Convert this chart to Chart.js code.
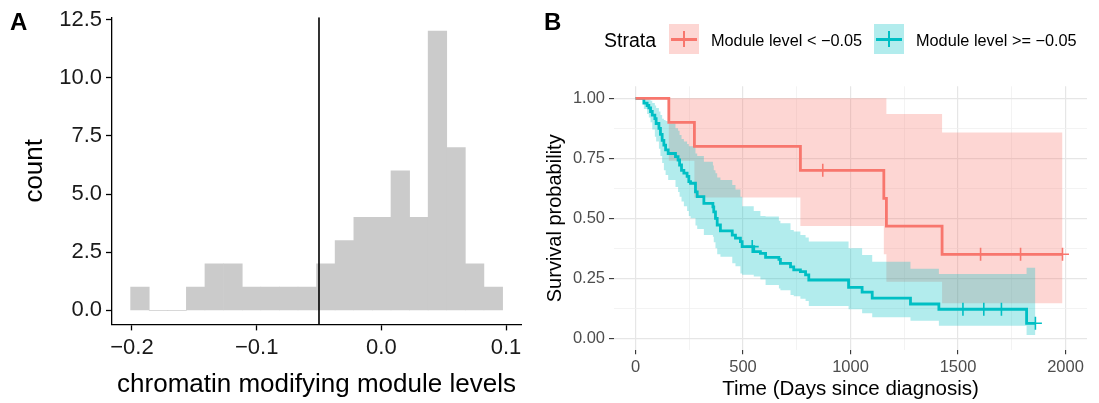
<!DOCTYPE html>
<html>
<head>
<meta charset="utf-8">
<script src="https://cdn.jsdelivr.net/npm/chart.js@4.4.1/dist/chart.umd.min.js"></script>
<style>
  body { margin: 0; background: #fff; }
  #wrap { position: relative; width: 1099px; height: 403px; overflow: hidden; font-family: "Liberation Sans", Arial, Helvetica, sans-serif; }
  canvas { position: absolute; top: 0; }
  .tag { position: absolute; font-weight: bold; font-size: 24px; line-height: 26px; color: #000; }
  .lg { position: absolute; white-space: nowrap; color: #000; }
  .key { position: absolute; width: 30px; height: 30px; top: 24px; }
  .key .h { position: absolute; left: 2px; top: 13.5px; width: 26px; height: 3px; }
  .key .v { position: absolute; left: 14px; top: 7px; width: 2px; height: 16px; }
</style>
</head>
<body>
<div id="wrap">
  <canvas id="histA" width="540" height="403" style="left:0"></canvas>
  <canvas id="survB" width="559" height="403" style="left:540px"></canvas>
  <div class="tag" style="left:10px;top:9px">A</div>
  <div class="tag" style="left:544px;top:9px">B</div>

  <div class="lg" style="left:604px;top:28px;font-size:19.5px;line-height:24px">Strata</div>
  <div class="key" style="left:669px;background:rgba(248,118,109,0.3)">
    <div class="h" style="background:#F8766D"></div><div class="v" style="background:#F8766D"></div>
  </div>
  <div class="lg" style="left:711px;top:30px;font-size:16.3px;line-height:20px">Module level &lt; &minus;0.05</div>
  <div class="key" style="left:874px;background:rgba(0,191,196,0.3)">
    <div class="h" style="background:#00BFC4"></div><div class="v" style="background:#00BFC4"></div>
  </div>
  <div class="lg" style="left:916px;top:30px;font-size:16.3px;line-height:20px">Module level &gt;= &minus;0.05</div>
</div>

<script>
// ---- panel A: histogram of module levels ----
const binCenters = [-0.1936, -0.1787, -0.1638, -0.1489, -0.1340, -0.1190, -0.1041, -0.0892, -0.0743, -0.0594,
                    -0.0445, -0.0296, -0.0146, 0.0003, 0.0152, 0.0301, 0.0450, 0.0599, 0.0748, 0.0898];
const binCounts = [1, 0, 0, 1, 2, 2, 1, 1, 1, 1, 2, 3, 4, 4, 6, 4, 12, 7, 2, 1];
const cutoff = -0.05;
const histXTicks = [-0.2, -0.1, 0, 0.1];
const histXLabels = ['\u22120.2', '\u22120.1', '0.0', '0.1'];
const histYTicks = [0, 2.5, 5, 7.5, 10, 12.5];
const histYLabels = ['0.0', '2.5', '5.0', '7.5', '10.0', '12.5'];

// ---- panel B: Kaplan-Meier curves ----
// module level < -0.05
const lowTimes = [0, 155, 274, 767, 1155, 1167, 1426, 1986];
const lowSurv  = [1, 0.9, 0.8, 0.7, 0.583, 0.467, 0.35, 0.35];
const lowUpper = [1, 1, 1, 1, 1, 0.935, 0.857, 0.857];
const lowLower = [1, 0.74, 0.587, 0.468, 0.35, 0.236, 0.146, 0.146];
const lowCensorT = [871, 1605, 1791, 1986];
const lowCensorS = [0.7, 0.35, 0.35, 0.35];

// module level >= -0.05
const highTimes = [0, 39, 54, 62, 70, 78, 90, 96, 109, 116, 124, 132, 140, 152, 186, 198, 205, 214, 225, 240,
                   248, 256, 279, 287, 318, 360, 364, 372, 380, 395, 450, 465, 488, 496, 550, 581, 605, 667, 674, 721,
                   736, 767, 791, 806, 991, 1054, 1101, 1279, 1411, 1819, 1860];
const highSurv  = [1, 0.98, 0.97, 0.96, 0.945, 0.93, 0.915, 0.895, 0.875, 0.85, 0.825, 0.805, 0.785, 0.77, 0.757, 0.743, 0.722, 0.70, 0.688, 0.675,
                   0.653, 0.646, 0.61, 0.59, 0.5625, 0.548, 0.527, 0.50, 0.472, 0.448, 0.43, 0.417, 0.403, 0.382, 0.361, 0.354, 0.3375, 0.329, 0.3125, 0.298,
                   0.285, 0.278, 0.264, 0.243, 0.2125, 0.192, 0.167, 0.143, 0.121, 0.0625, 0.0625];
const highUpper = [1, 1, 1, 0.995, 0.99, 0.98, 0.97, 0.96, 0.945, 0.93, 0.915, 0.91, 0.905, 0.895, 0.875, 0.865, 0.847, 0.83, 0.82, 0.81,
                   0.80, 0.80, 0.77, 0.76, 0.736, 0.72, 0.70, 0.6875, 0.67, 0.66, 0.639, 0.62, 0.59, 0.55, 0.53, 0.51, 0.507, 0.49, 0.479, 0.451,
                   0.445, 0.43, 0.42, 0.403, 0.375, 0.347, 0.319, 0.29, 0.268, 0.294, 0.294];
const highLower = [1, 0.955, 0.935, 0.92, 0.90, 0.87, 0.84, 0.82, 0.79, 0.76, 0.73, 0.70, 0.68, 0.66, 0.63, 0.61, 0.59, 0.57, 0.55, 0.53,
                   0.51, 0.50, 0.47, 0.455, 0.43, 0.423, 0.40, 0.375, 0.35, 0.34, 0.3125, 0.30, 0.27, 0.265, 0.257, 0.245, 0.222, 0.208, 0.20, 0.18,
                   0.175, 0.165, 0.155, 0.135, 0.121, 0.104, 0.0875, 0.073, 0.0525, 0.014, 0.014];
const highCensorT = [543, 1523, 1620, 1702, 1860];
const highCensorS = [0.382, 0.121, 0.121, 0.121, 0.0625];

const survXTicks = [0, 500, 1000, 1500, 2000];
const survXLabels = ['0', '500', '1000', '1500', '2000'];
const survXMinor = [250, 750, 1250, 1750];
const survYTicks = [0, 0.25, 0.5, 0.75, 1];
const survYLabels = ['0.00', '0.25', '0.50', '0.75', '1.00'];
const survYMinor = [0.125, 0.375, 0.625, 0.875];

const RED = '#F8766D';
const CYAN = '#00BFC4';
const FONT = '"Liberation Sans", Arial, Helvetica, sans-serif';

Chart.defaults.font.family = FONT;

function pts(xs, ys) {
    return xs.map((x, i) => ({ x: x, y: ys[i] }));
}

// panel A
new Chart(document.getElementById('histA'), {
    type: 'bar',
    data: {
        datasets: [
            {
                type: 'line',
                data: [{ x: cutoff, y: -0.6 }, { x: cutoff, y: 12.6 }],
                borderColor: '#000',
                borderWidth: 1.6,
                pointRadius: 0,
                order: 0
            },
            {
                type: 'bar',
                data: pts(binCenters, binCounts),
                backgroundColor: '#cbcbcb',
                borderWidth: 0,
                barPercentage: 1,
                categoryPercentage: 1,
                order: 1
            }
        ]
    },
    options: {
        responsive: false,
        animation: false,
        events: [],
        layout: { padding: { top: 15, right: 19, left: 0, bottom: 0 } },
        plugins: { legend: { display: false }, tooltip: { enabled: false } },
        scales: {
            x: {
                type: 'linear',
                min: -0.216,
                max: 0.112,
                offset: false,
                afterBuildTicks: s => { s.ticks = histXTicks.map(v => ({ value: v })); },
                afterFit: s => { s.height = 78.6; },
                ticks: {
                    autoSkip: false,
                    maxRotation: 0,
                    padding: 4,
                    color: '#1a1a1a',
                    font: { size: 22 },
                    callback: (v, i) => histXLabels[i]
                },
                grid: { offset: false, drawOnChartArea: false, tickLength: 6, tickColor: '#000', tickWidth: 1.3, color: '#000' },
                border: { display: true, color: '#000', width: 1.3 },
                title: { display: true, text: 'chromatin modifying module levels', color: '#000', font: { size: 26 }, padding: { top: 0, bottom: 3 } }
            },
            y: {
                min: -0.6,
                max: 12.6,
                afterBuildTicks: s => { s.ticks = histYTicks.map(v => ({ value: v })); },
                afterFit: s => { s.width = 112; },
                ticks: {
                    autoSkip: false,
                    padding: 4,
                    color: '#1a1a1a',
                    font: { size: 22 },
                    callback: (v, i) => histYLabels[i]
                },
                grid: { drawOnChartArea: false, tickLength: 6, tickColor: '#000', tickWidth: 1.3, color: '#000' },
                border: { display: true, color: '#000', width: 1.3 },
                title: { display: true, text: 'count', color: '#000', font: { size: 26 }, padding: { top: 19, bottom: 0 } }
            }
        }
    }
});

// panel B
const majorGrid = '#e6e6e6';
const minorGrid = '#f0f0f0';

function band(xs, ys, color, fillTarget, order) {
    return {
        data: pts(xs, ys),
        showLine: true,
        stepped: true,
        borderWidth: 0,
        borderColor: 'rgba(0,0,0,0)',
        pointRadius: 0,
        backgroundColor: color,
        fill: fillTarget,
        order: order
    };
}

new Chart(document.getElementById('survB'), {
    type: 'scatter',
    data: {
        datasets: [
            band(lowTimes, lowLower, 'rgba(248,118,109,0.3)', false, 5),
            band(lowTimes, lowUpper, 'rgba(248,118,109,0.3)', 0, 5),
            band(highTimes, highLower, 'rgba(0,191,196,0.3)', false, 4),
            band(highTimes, highUpper, 'rgba(0,191,196,0.3)', 2, 4),
            {
                data: pts(lowTimes, lowSurv), showLine: true, stepped: true,
                borderColor: RED, borderWidth: 2.8, pointRadius: 0, fill: false, order: 1
            },
            {
                data: pts(highTimes, highSurv), showLine: true, stepped: true,
                borderColor: CYAN, borderWidth: 2.8, pointRadius: 0, fill: false, order: 1
            },
            {
                data: pts(lowCensorT, lowCensorS), pointStyle: 'cross', pointRadius: 6.5,
                borderColor: RED, pointBorderWidth: 1.6, order: 0
            },
            {
                data: pts(highCensorT, highCensorS), pointStyle: 'cross', pointRadius: 6.5,
                borderColor: CYAN, pointBorderWidth: 1.6, order: 0
            }
        ]
    },
    options: {
        responsive: false,
        animation: false,
        events: [],
        layout: { padding: { top: 86.3, right: 12, left: 0, bottom: 0 } },
        plugins: { legend: { display: false }, tooltip: { enabled: false } },
        scales: {
            x: {
                type: 'linear',
                min: -100,
                max: 2100,
                afterBuildTicks: s => {
                    s.ticks = survXTicks.concat(survXMinor).sort((a, b) => a - b).map(v => ({ value: v }));
                },
                afterFit: s => { s.height = 52.7; },
                ticks: {
                    autoSkip: false,
                    maxRotation: 0,
                    padding: 3,
                    color: '#4d4d4d',
                    font: { size: 16.5 },
                    callback: v => {
                        const i = survXTicks.indexOf(v);
                        return i >= 0 ? survXLabels[i] : '';
                    }
                },
                grid: {
                    color: ctx => survXTicks.includes(ctx.tick.value) ? majorGrid : minorGrid,
                    lineWidth: ctx => survXTicks.includes(ctx.tick.value) ? 1.2 : 0.8,
                    tickColor: ctx => survXTicks.includes(ctx.tick.value) ? '#333' : 'rgba(0,0,0,0)',
                    tickLength: 4,
                    tickWidth: 1.1
                },
                border: { display: false },
                title: { display: true, text: 'Time (Days since diagnosis)', color: '#000', font: { size: 20.5 }, padding: { top: 0, bottom: 1 } }
            },
            y: {
                min: -0.05,
                max: 1.05,
                afterBuildTicks: s => {
                    s.ticks = survYTicks.concat(survYMinor).sort((a, b) => a - b).map(v => ({ value: v }));
                },
                afterFit: s => { s.width = 74; },
                ticks: {
                    autoSkip: false,
                    padding: 4,
                    color: '#4d4d4d',
                    font: { size: 16.5 },
                    callback: v => {
                        const i = survYTicks.indexOf(v);
                        return i >= 0 ? survYLabels[i] : '';
                    }
                },
                grid: {
                    color: ctx => survYTicks.includes(ctx.tick.value) ? majorGrid : minorGrid,
                    lineWidth: ctx => survYTicks.includes(ctx.tick.value) ? 1.2 : 0.8,
                    tickColor: ctx => survYTicks.includes(ctx.tick.value) ? '#333' : 'rgba(0,0,0,0)',
                    tickLength: 5,
                    tickWidth: 1.1
                },
                border: { display: false },
                title: { display: true, text: 'Survival probability', color: '#000', font: { size: 20 }, padding: { top: 3, bottom: 0 } }
            }
        }
    }
});
</script>
</body>
</html>
